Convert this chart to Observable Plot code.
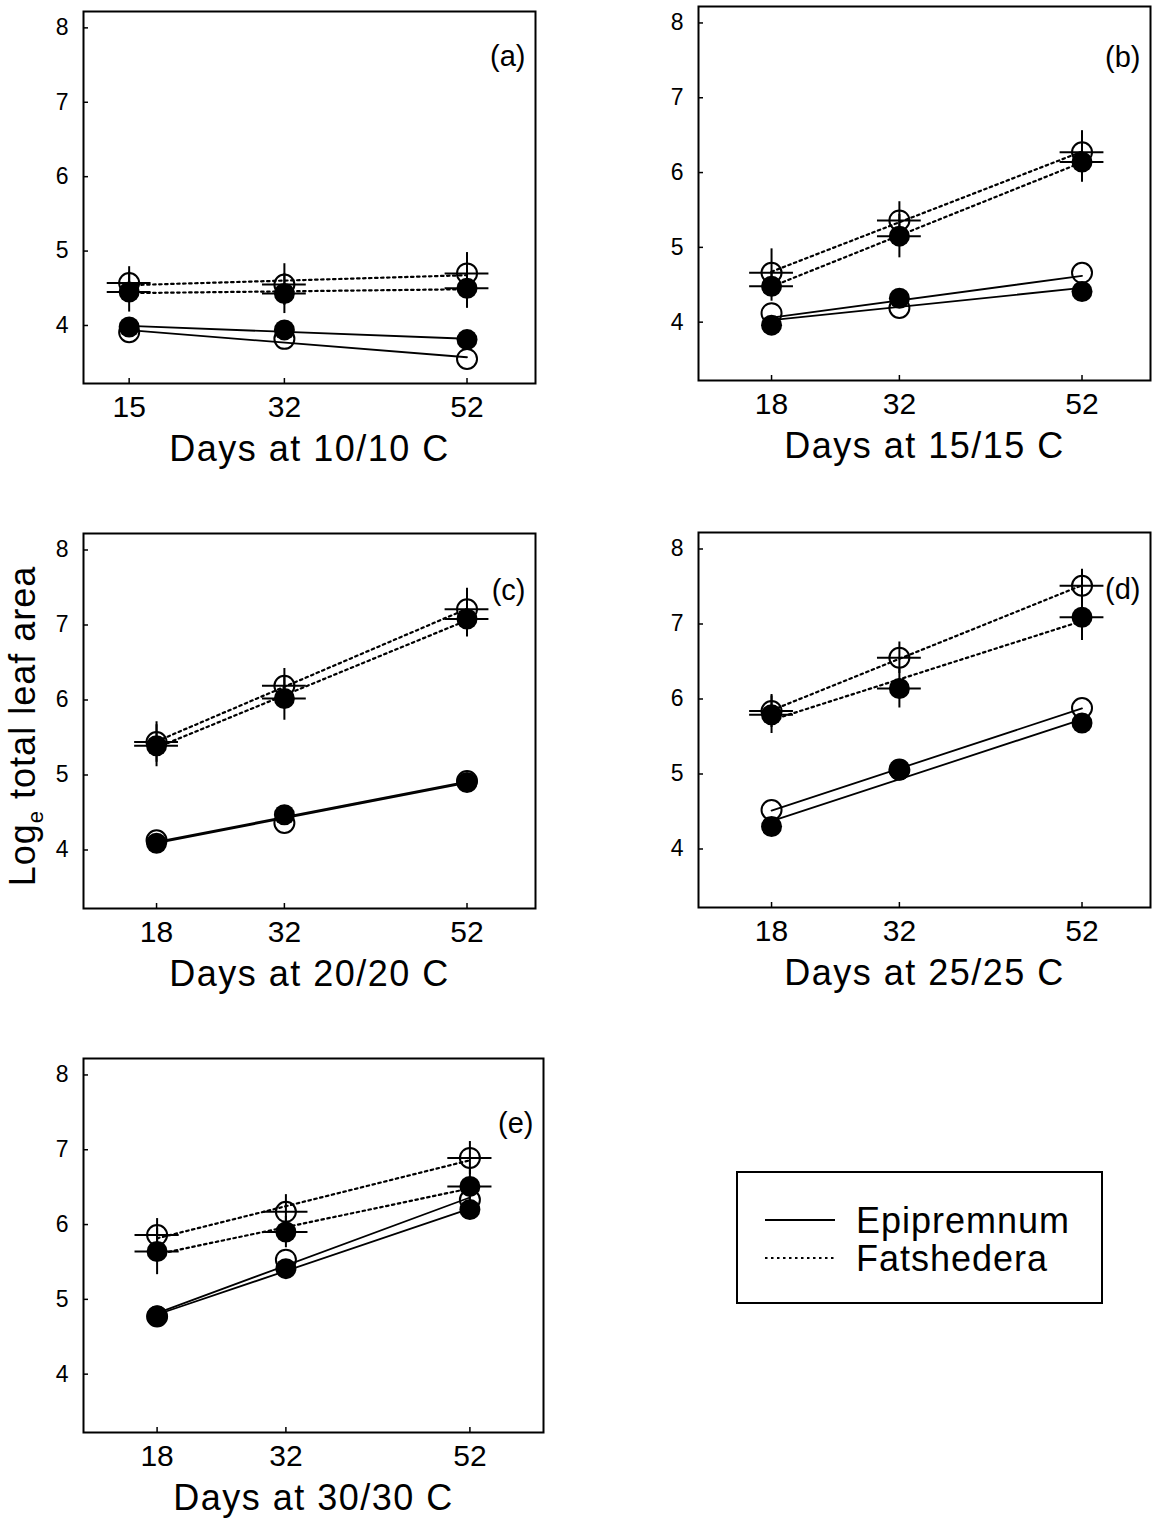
<!DOCTYPE html>
<html><head><meta charset="utf-8">
<script src="https://cdn.jsdelivr.net/npm/d3@7"></script>
<script src="https://cdn.jsdelivr.net/npm/@observablehq/plot@0.6"></script>
<style>
html,body{margin:0;padding:0;background:#fff;}
#chart{position:relative;width:1164px;height:1518px;background:#fff;overflow:hidden;}
#chart svg{position:absolute;}
</style></head><body><div id="chart"></div>
<script>
// ---- data ----
const panelLabels = ["(a)", "(b)", "(c)", "(d)", "(e)"];
const xTitles = ["Days at 10/10 C", "Days at 15/15 C", "Days at 20/20 C", "Days at 25/25 C", "Days at 30/30 C"];
const days = [[15, 32, 52], [18, 32, 52], [18, 32, 52], [18, 32, 52], [18, 32, 52]];
const yTicks = [4, 5, 6, 7, 8];
const yTitle = ["Log", "e", " total leaf area"];
const legendNames = ["Epipremnum", "Fatshedera"];

// Epipremnum (solid lines), open and filled circles
const epiOpen   = [[3.91, 3.82, 3.55], [4.12, 4.19, 4.66], [4.13, 4.36, 4.92], [4.52, 5.06, 5.88], [4.77, 5.53, 6.33]];
const epiFilled = [[3.98, 3.94, 3.81], [3.96, 4.32, 4.41], [4.09, 4.47, 4.90], [4.30, 5.05, 5.68], [4.78, 5.41, 6.20]];
// Fatshedera (dotted lines), open and filled circles, with error bars
const fatOpen   = [[4.57, 4.55, 4.70], [4.66, 5.36, 6.27], [5.44, 6.19, 7.21], [5.84, 6.55, 7.51], [5.86, 6.17, 6.89]];
const fatFilled = [[4.45, 4.43, 4.50], [4.48, 5.15, 6.14], [5.39, 6.02, 7.08], [5.79, 6.14, 7.09], [5.64, 5.90, 6.51]];
const fatOpenSE   = [[0.22, 0.28, 0.28], [0.32, 0.25, 0.29], [0.27, 0.23, 0.28], [0.22, 0.21, 0.22], [0.22, 0.23, 0.22]];
const fatFilledSE = [[0.27, 0.27, 0.27], [0.20, 0.29, 0.27], [0.28, 0.29, 0.24], [0.25, 0.26, 0.31], [0.31, 0.21, 0.25]];

// ---- layout ----
const FONT = "'Liberation Sans', Arial, Helvetica, sans-serif";
const ML = 70, MR = 30, MT = 10, MB = 110;
const frameLeftTop = [[83, 11], [698, 6], [83, 533], [698, 532], [83, 1058]];
const frameW = [452, 452, 452, 452, 460];
const xMax = [59.5, 59.5, 59.5, 59.5, 60];
const frameH = [372, 374, 375, 375, 374];
const labelDy = [34, 40, 46, 46, 54];
const chart = document.getElementById("chart");

function rowsFor(i) {
  const rows = [];
  days[i].forEach((d, j) => {
    rows.push({plant: "Epipremnum", form: "open", day: d, v: epiOpen[i][j], se: 0});
    rows.push({plant: "Epipremnum", form: "filled", day: d, v: epiFilled[i][j], se: 0});
    rows.push({plant: "Fatshedera", form: "open", day: d, v: fatOpen[i][j], se: fatOpenSE[i][j]});
    rows.push({plant: "Fatshedera", form: "filled", day: d, v: fatFilled[i][j], se: fatFilledSE[i][j]});
  });
  return rows;
}

function panel(i) {
  const rows = rowsFor(i);
  const epi = rows.filter(d => d.plant === "Epipremnum");
  const fat = rows.filter(d => d.plant === "Fatshedera");
  const open = rows.filter(d => d.form === "open");
  const filled = rows.filter(d => d.form === "filled");
  const svg = Plot.plot({
    width: frameW[i] + ML + MR,
    height: frameH[i] + MT + MB,
    marginLeft: ML, marginRight: MR, marginTop: MT, marginBottom: MB,
    style: {fontFamily: FONT, background: "transparent", overflow: "visible", color: "black"},
    x: {domain: [10, xMax[i]]},
    y: {domain: [3.22, 8.22]},
    marks: [
      Plot.axisY({ticks: yTicks, tickFormat: "d", tickSize: 0, tickPadding: 15, fontSize: 23, label: null}),
      Plot.axisX({ticks: days[i], tickFormat: "d", tickSize: 0, tickPadding: 12, fontSize: 30, label: null}),
      Plot.axisY({ticks: yTicks, tickSize: -5, text: null, label: null, strokeWidth: 1.5}),
      Plot.axisX({ticks: days[i], tickSize: -5, text: null, label: null, strokeWidth: 1.5}),
      Plot.dot(open, {x: "day", y: "v", r: 10, fill: "white", stroke: "black", strokeWidth: 2}),
      Plot.linearRegressionY(epi, {x: "day", y: "v", z: "form", stroke: "black", strokeWidth: 1.8, ci: 0}),
      Plot.linearRegressionY(fat, {x: "day", y: "v", z: "form", stroke: "black", strokeWidth: 2.2, strokeDasharray: "2.5,3.5", ci: 0}),
      Plot.dot(filled, {x: "day", y: "v", r: 10.5, fill: "black"}),
      Plot.ruleX(fat, {x: "day", y1: d => d.v - d.se, y2: d => d.v + d.se, stroke: "black", strokeWidth: 2}),
      Plot.ruleY(fat, {y: "v", x1: d => d.day - 2.4, x2: d => d.day + 2.4, stroke: "black", strokeWidth: 2}),
      Plot.frame({stroke: "black", strokeWidth: 2}),
      Plot.text([panelLabels[i]], {text: d => d, frameAnchor: "top-right", textAnchor: "end", dx: -10, dy: labelDy[i], fontSize: 29}),
      Plot.text([xTitles[i]], {text: d => d, frameAnchor: "bottom", dy: 77, fontSize: 36})
    ]
  });
  d3.select(svg).selectAll("text").filter(function () { return this.textContent === xTitles[i]; })
    .style("letter-spacing", "1.5px");
  svg.style.left = (frameLeftTop[i][0] - ML) + "px";
  svg.style.top = (frameLeftTop[i][1] - MT) + "px";
  svg.style.maxWidth = "none";
  chart.appendChild(svg);
}

for (let i = 0; i < panelLabels.length; i++) panel(i);

// ---- y-axis title (rotated, with subscript e) ----
const ys = d3.create("svg").attr("width", 60).attr("height", 420)
  .style("left", "0px").style("top", (726 - 210) + "px");
const yt = ys.append("text")
  .attr("transform", "translate(35,210) rotate(-90)")
  .attr("text-anchor", "middle")
  .attr("font-family", FONT).attr("font-size", 36).attr("fill", "black")
  .style("letter-spacing", "1px");
yt.append("tspan").text(yTitle[0]);
yt.append("tspan").attr("font-size", 22).attr("dy", 8).text(yTitle[1]);
yt.append("tspan").attr("dy", -8).text(yTitle[2]);
chart.appendChild(ys.node());

// ---- legend ----
const lg = d3.create("svg").attr("width", 370).attr("height", 136)
  .style("left", "735px").style("top", "1170px");
lg.append("rect").attr("x", 2).attr("y", 2).attr("width", 365).attr("height", 131)
  .attr("fill", "white").attr("stroke", "black").attr("stroke-width", 2);
const legendDash = [null, "2.5,3.5"];
legendNames.forEach((name, k) => {
  const cy = 50 + k * 38;
  lg.append("line").attr("x1", 30).attr("x2", 100).attr("y1", cy).attr("y2", cy)
    .attr("stroke", "black").attr("stroke-width", 2).attr("stroke-dasharray", legendDash[k]);
  lg.append("text").attr("x", 121).attr("y", cy + 13)
    .attr("font-family", FONT).attr("font-size", 36).attr("fill", "black")
    .style("letter-spacing", "1px").text(name);
});
chart.appendChild(lg.node());
</script></body></html>
